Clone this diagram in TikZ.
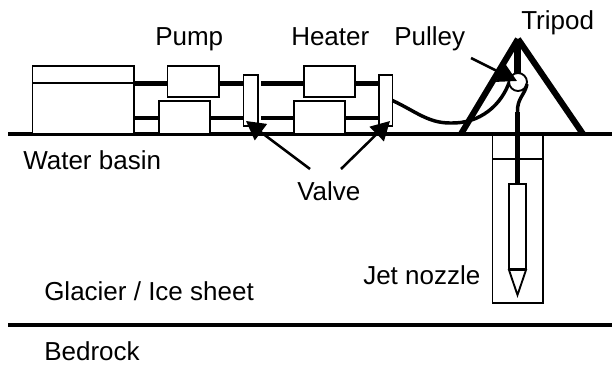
\documentclass[tikz,border=0pt]{standalone}
\usepackage{fontspec}
\setmainfont{Liberation Sans}
\usetikzlibrary{arrows.meta}
\tikzset{
 box/.style={draw=black,line width=1.4pt,fill=white,inner sep=0pt,outer sep=0pt,anchor=north west},
 pipe/.style={draw=black,line width=3.2pt},
 leg/.style={draw=black,line width=4.6pt},
 thinline/.style={draw=black,line width=1.4pt},
 ground/.style={draw=black,line width=2.4pt},
 hose/.style={draw=black,line width=2.6pt},
 pointer/.style={draw=black,line width=1.9pt,-{Triangle[length=14pt,width=15pt]}},
 lbl/.style={font=\fontsize{19.5pt}{21pt}\selectfont,inner sep=0pt,anchor=base west}
}
\begin{document}
\begin{tikzpicture}[x=0.75pt,y=-0.75pt]
\useasboundingbox (0,0) rectangle (612,365);
\fill[white] (0,0) rectangle (612,365);
\coordinate (gl) at (8,134); \coordinate (gr) at (612,134);
\coordinate (bl) at (8,325); \coordinate (br) at (612,325);
\coordinate (apex) at (518,39);
\coordinate (footl) at (461,134); \coordinate (footr) at (583,134);
\coordinate (apexdown) at (517.5,39); \coordinate (legend) at (517.5,75);
\coordinate (p1) at (134,83.5); \coordinate (p2) at (243.5,83.5);
\coordinate (p3) at (261,83.5); \coordinate (p4) at (379,83.5);
\coordinate (q1) at (134,118); \coordinate (q2) at (243.5,118);
\coordinate (q3) at (261,118); \coordinate (q4) at (379,118);
\coordinate (hs) at (392.5,100.5); \coordinate (hm) at (450,123); \coordinate (he) at (510,80);
\coordinate (hr) at (527,84); \coordinate (hv) at (517.5,112);
\coordinate (ps) at (471,58); \coordinate (pt) at (517,81);
\coordinate (vs1) at (310,169); \coordinate (vt1) at (246,121);
\coordinate (vs2) at (341,169); \coordinate (vt2) at (390,121);
% pipes and ground
\draw[pipe] (p1) -- (p2) (p3) -- (p4);
\draw[pipe] (q1) -- (q2) (q3) -- (q4);
\draw[ground] (gl) -- (gr);
\draw[ground] (bl) -- (br);
% tank
\node[box,minimum width=101.5*0.75pt,minimum height=68*0.75pt] (tank) at (32.5,66) {};
\coordinate (tl) at (32.5,83); \coordinate (tr) at (134,83);
\draw[thinline] (tl) -- (tr);
% pump, heater and their lower boxes
\node[box,minimum width=51.5*0.75pt,minimum height=31*0.75pt] (pumpbox) at (167.5,66) {};
\node[box,minimum width=51*0.75pt,minimum height=33*0.75pt] (pumpbase) at (159,101) {};
\node[box,minimum width=51*0.75pt,minimum height=31*0.75pt] (heaterbox) at (304,66) {};
\node[box,minimum width=51*0.75pt,minimum height=33*0.75pt] (heaterbase) at (294,101) {};
% valves
\node[box,minimum width=14.5*0.75pt,minimum height=51*0.75pt] (valvea) at (243.5,75) {};
\node[box,minimum width=13.5*0.75pt,minimum height=51*0.75pt] (valveb) at (379,75) {};
% hole
\coordinate (h1) at (492.5,134); \coordinate (h2) at (492.5,303);
\coordinate (h3) at (543,303); \coordinate (h4) at (543,134);
\coordinate (h5) at (492.5,159); \coordinate (h6) at (543,159);
\draw[thinline] (h1) -- (h2) -- (h3) -- (h4);
\draw[thinline] (h5) -- (h6);
% tripod
\draw[leg] (footl) -- (apex);
\draw[leg] (footr) -- (apex);
\draw[leg] (apexdown) -- (legend);
% hose
\draw[hose] (hs) .. controls (415,111) and (428,123) .. (hm) .. controls (480,124) and (502,105) .. (he);
\node[draw=black,line width=1.4pt,fill=white,circle,minimum size=18*0.75pt,inner sep=0pt] (pulley) at (518,82) {};
\draw[hose] (hr) .. controls (525,95) and (517,98) .. (hv);
% nozzle
\node[box,minimum width=17*0.75pt,minimum height=85*0.75pt] (nozzle) at (509,184) {};
\coordinate (n1) at (509,270); \coordinate (n2) at (526,270); \coordinate (n3) at (517.5,295);
\draw[box] (n1) -- (n2) -- (n3) -- cycle;
\draw[line width=3.4pt] (hv) -- (nozzle.north);
% pointers
\draw[pointer] (ps) -- (pt);
\draw[pointer] (vs1) -- (vt1);
\draw[pointer] (vs2) -- (vt2);
% labels
\node[lbl] (lpump) at (155,45) {Pump};
\node[lbl] (lheater) at (291,45) {Heater};
\node[lbl] (lpulley) at (394,45) {Pulley};
\node[lbl] (ltripod) at (521,29) {Tripod};
\node[lbl] (lwater) at (23,169) {Water basin};
\node[lbl] (lvalve) at (297,200) {Valve};
\node[lbl] (ljet) at (363,284) {Jet nozzle};
\node[lbl] (lglacier) at (44,300) {Glacier / Ice sheet};
\node[lbl] (lbed) at (44,360) {Bedrock};
\end{tikzpicture}
\end{document}
